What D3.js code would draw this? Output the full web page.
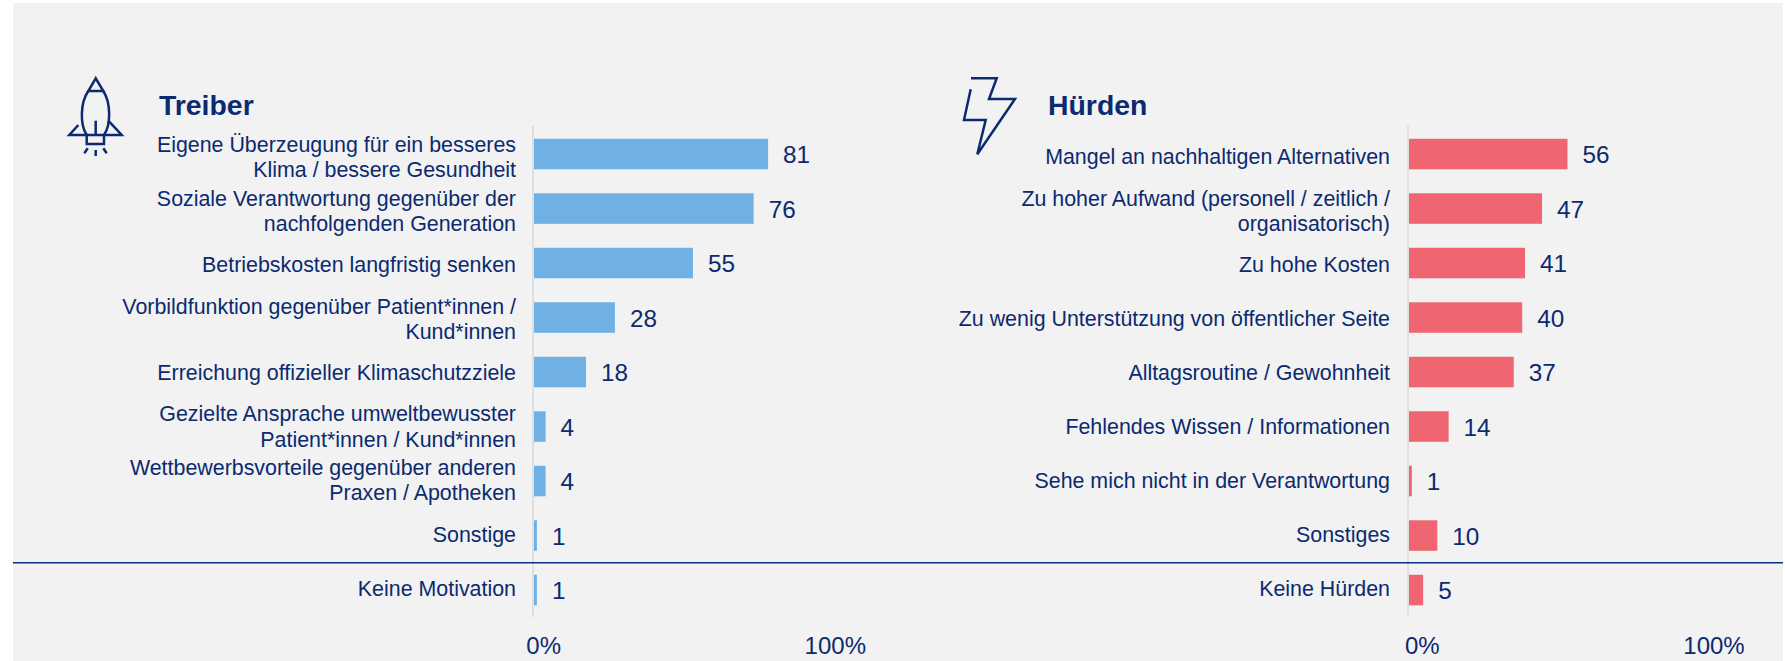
<!DOCTYPE html>
<html>
<head>
<meta charset="utf-8">
<script src="https://cdn.jsdelivr.net/npm/d3@7"></script>
<style>
  html, body { margin: 0; padding: 0; background: #fff; }
  svg { display: block; }
  text { font-family: "Liberation Sans", Arial, sans-serif; fill: #0b2a6f; }
</style>
</head>
<body>
<svg id="chart" width="1785" height="661"></svg>
<script>
const treiberLabels = [
  ["Eigene Überzeugung für ein besseres", "Klima / bessere Gesundheit"],
  ["Soziale Verantwortung gegenüber der", "nachfolgenden Generation"],
  ["Betriebskosten langfristig senken"],
  ["Vorbildfunktion gegenüber Patient*innen /", "Kund*innen"],
  ["Erreichung offizieller Klimaschutzziele"],
  ["Gezielte Ansprache umweltbewusster", "Patient*innen / Kund*innen"],
  ["Wettbewerbsvorteile gegenüber anderen", "Praxen / Apotheken"],
  ["Sonstige"],
  ["Keine Motivation"]
];
const treiberValues = [81, 76, 55, 28, 18, 4, 4, 1, 1];

const huerdenLabels = [
  ["Mangel an nachhaltigen Alternativen"],
  ["Zu hoher Aufwand (personell / zeitlich /", "organisatorisch)"],
  ["Zu hohe Kosten"],
  ["Zu wenig Unterstützung von öffentlicher Seite"],
  ["Alltagsroutine / Gewohnheit"],
  ["Fehlendes Wissen / Informationen"],
  ["Sehe mich nicht in der Verantwortung"],
  ["Sonstiges"],
  ["Keine Hürden"]
];
const huerdenValues = [56, 47, 41, 40, 37, 14, 1, 10, 5];

const axisTicks = [0, 100];
const navy = "#0b2a6f";

let svg = d3.select("#chart");

svg.append("rect")
  .attr("x", 13).attr("y", 3)
  .attr("width", 1770).attr("height", 658)
  .attr("fill", "#f2f2f2");

function drawPanel(p) {
  let g = svg.append("g");
  let rows = d3.range(p.values.length);

  let x = d3.scaleLinear().domain([0, 100]).range([p.x0, p.x0 + p.span]);
  let y = d3.scaleBand().domain(rows).range([126.8, 617.3]).paddingInner(0.44).paddingOuter(0.22);
  // the text column runs on a slightly tighter step than the bars
  let labelY = d3.scalePoint().domain(rows).range([164.4, 595.6]);
  let tickX = d3.scaleLinear().domain([0, 100]).range(p.tickRange);

  g.append("text")
    .attr("x", p.titleX).attr("y", 115)
    .attr("font-size", 28.4).attr("font-weight", "bold")
    .text(p.title);

  g.append("line")
    .attr("x1", p.x0 - 1).attr("x2", p.x0 - 1)
    .attr("y1", 126).attr("y2", 617)
    .attr("stroke", "#d9d9d9").attr("stroke-width", 1.5);

  g.selectAll("rect.bar")
    .data(p.values)
    .enter()
    .append("rect")
    .attr("class", "bar")
    .attr("x", x(0))
    .attr("y", (d, i) => y(i))
    .attr("width", d => x(d) - x(0))
    .attr("height", y.bandwidth())
    .attr("fill", p.color);

  g.selectAll("text.value")
    .data(p.values)
    .enter()
    .append("text")
    .attr("class", "value")
    .attr("x", d => x(d) + 15)
    .attr("y", (d, i) => y(i) + y.bandwidth() / 2 + 9)
    .attr("font-size", 24.3)
    .text(d => d);

  let lab = g.selectAll("text.label")
    .data(p.labels)
    .enter()
    .append("text")
    .attr("class", "label")
    .attr("text-anchor", "end")
    .attr("font-size", 21.4);

  lab.selectAll("tspan")
    .data((d, i) => d.map((t, j) => ({ t: t, j: j, n: d.length, i: i })))
    .enter()
    .append("tspan")
    .attr("x", p.labelX)
    .attr("y", d => labelY(d.i) + (d.j - (d.n - 1) / 2) * 25.2)
    .text(d => d.t);

  g.selectAll("text.tick")
    .data(axisTicks)
    .enter()
    .append("text")
    .attr("class", "tick")
    .attr("text-anchor", "middle")
    .attr("x", d => tickX(d))
    .attr("y", 654)
    .attr("font-size", 24)
    .text(d => d + "%");
}

drawPanel({
  title: "Treiber", titleX: 159, labels: treiberLabels, values: treiberValues,
  color: "#6fb1e4", x0: 534, span: 289, labelX: 516, tickRange: [543.7, 835.3]
});
drawPanel({
  title: "Hürden", titleX: 1048, labels: huerdenLabels, values: huerdenValues,
  color: "#ef6570", x0: 1409, span: 283, labelX: 1390, tickRange: [1422.3, 1714]
});

// line above the "none" row
svg.append("line")
  .attr("x1", 13).attr("x2", 1783)
  .attr("y1", 562.7).attr("y2", 562.7)
  .attr("stroke", "#0b2f80").attr("stroke-width", 1.4);

// rocket icon
let rocket = svg.append("g").attr("fill", "none").attr("stroke", navy).attr("stroke-width", 2.5);
rocket.append("path").attr("d", "M95.7 78.3 L88.3 91 L103.3 91 Z");
rocket.append("path").attr("d", "M88.3 91 C80 103 80 125 86.7 135 M103.3 91 C111 103 111 125 104 135");
rocket.append("path").attr("d", "M95.7 120.7 L95.7 135");
rocket.append("path").attr("d", "M78.3 125 L69.3 135 L121.7 135 L108.3 120.7");
rocket.append("path").attr("d", "M86.7 135 L86.7 144 L104 144 L104 135");
rocket.append("path").attr("d", "M84.3 153.3 L87.7 148.3 M95.7 150 L95.7 156 M106.7 153.3 L103.3 148.3");

// lightning icon
svg.append("path")
  .attr("d", "M971 78.3 L996.7 78.3 L989 99 L1015 99 L977.3 154.3 L985.7 120 L964 120 L970.7 89.3")
  .attr("fill", "none").attr("stroke", navy).attr("stroke-width", 2.5);
</script>
</body>
</html>
